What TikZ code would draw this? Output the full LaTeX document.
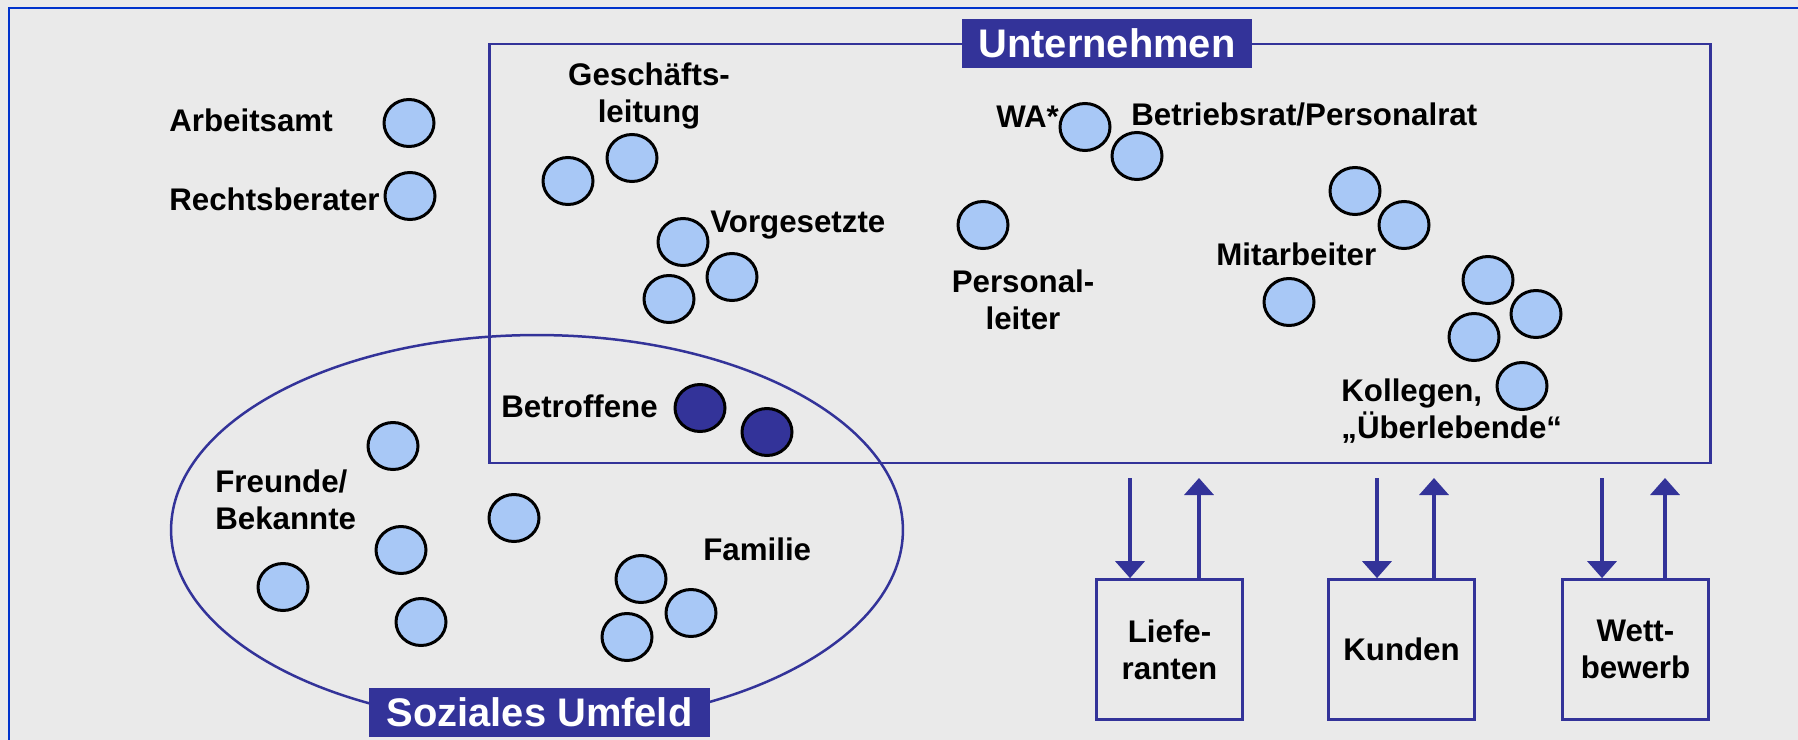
\documentclass[tikz,border=0pt]{standalone}
\usepackage{fontspec}
\setmainfont{Liberation Sans}
\usetikzlibrary{arrows.meta,shapes.geometric}
\definecolor{navy}{HTML}{333399}
\definecolor{lightblue}{HTML}{A8C8F6}
\definecolor{frameblue}{HTML}{0033CC}
\definecolor{bggray}{HTML}{EAEAEA}

\begin{document}
\begin{tikzpicture}[x=0.02cm,y=-0.02cm,
  person/.style={ellipse,draw=black,line width=0.06cm,fill=lightblue,minimum width=1cm,minimum height=0.94cm,inner sep=0pt},
  affected/.style={person,fill=navy},
  lbl/.style={inner sep=0pt,font=\fontsize{17.8}{21}\selectfont\bfseries},
  tag/.style={fill=navy,text=white,inner sep=0pt,minimum height=0.98cm,font=\fontsize{22.7}{26}\selectfont\bfseries},
  partner/.style={draw=navy,line width=0.055cm,minimum width=2.92cm,minimum height=2.8cm,inner sep=0pt,align=center,font=\fontsize{17.8}{21}\selectfont\bfseries},
  flow/.style={draw=navy,line width=0.075cm,-{Triangle[width=0.58cm,length=0.34cm]}}]

\useasboundingbox[fill=bggray] (0,0) rectangle (1798,740);
\draw[frameblue,line width=0.05cm] (9,740) -- (9,8) -- (1798,8);

\node[draw=navy,line width=0.05cm,ellipse,minimum width=14.64cm,minimum height=7.8cm,inner sep=0pt] (umfeld) at (537,530) {};
\node[draw=navy,line width=0.055cm,minimum width=24.43cm,minimum height=8.38cm,inner sep=0pt] (unt) at (1100,253.5) {};

\node[tag,minimum width=5.8cm] (untlbl) at (1107,43.5) {Unternehmen};
\node[tag,minimum width=6.82cm] (umflbl) at (539.5,712.5) {Soziales Umfeld};

% outside
\node[lbl,anchor=base west] (amt) at (169,132) {Arbeitsamt};
\node[lbl,anchor=base west] (recht) at (169,210) {Rechtsberater};
\node[person] (p-amt) at (409,123) {};
\node[person] (p-recht) at (410,196) {};

% Unternehmen
\node[lbl,align=center] (gl) at (649,96) {Geschäfts-\\leitung};
\node[person] (gl1) at (568,181) {};
\node[person] (gl2) at (632,158) {};

\node[lbl,anchor=base west] (vg) at (710,232) {Vorgesetzte};
\node[person] (vg1) at (683,242) {};
\node[person] (vg2) at (732,277) {};
\node[person] (vg3) at (669,299) {};

\node[lbl,align=center] (pl) at (1023,300) {Personal-\\leiter};
\node[person] (pl1) at (983,225) {};

\node[lbl,anchor=base west] (wa) at (996,128) {WA*};
\node[person] (wa1) at (1085,127) {};
\node[lbl,anchor=base west] (br) at (1131,126) {Betriebsrat/Personalrat};
\node[person] (br1) at (1137,156) {};

\node[lbl,anchor=base west] (ma) at (1216,265) {Mitarbeiter};
\node[person] (ma1) at (1355,191) {};
\node[person] (ma2) at (1404,225) {};
\node[person] (ma3) at (1289,302) {};

\node[lbl,align=left,anchor=west] (kol) at (1341,411) {Kollegen,\\„Überlebende“};
\node[person] (kol1) at (1488,280) {};
\node[person] (kol2) at (1536,314) {};
\node[person] (kol3) at (1474,337) {};
\node[person] (kol4) at (1522,386) {};

\node[lbl,anchor=base west] (bt) at (501,417) {Betroffene};
\node[affected] (bt1) at (700,408) {};
\node[affected] (bt2) at (767,432) {};

% Soziales Umfeld
\node[lbl,align=left,anchor=west] (fr) at (215,500) {Freunde/\\Bekannte};
\node[person] (fr1) at (393,446) {};
\node[person] (fr2) at (514,518) {};
\node[person] (fr3) at (401,550) {};
\node[person] (fr4) at (283,587) {};
\node[person] (fr5) at (421,622) {};

\node[lbl,anchor=base west] (fam) at (703,560) {Familie};
\node[person] (fam1) at (641,579) {};
\node[person] (fam2) at (691,613) {};
\node[person] (fam3) at (627,637) {};

% Markt
\node[partner] (lief) at (1169.5,649.5) {Liefe-\\ranten};
\node[partner] (kund) at (1401.5,649.5) {Kunden};
\node[partner] (wett) at (1635.5,649.5) {Wett-\\bewerb};

\coordinate (lief-in) at (1130,478);
\coordinate (lief-out) at (1199,478);
\coordinate (kund-in) at (1377,478);
\coordinate (kund-out) at (1434,478);
\coordinate (wett-in) at (1602,478);
\coordinate (wett-out) at (1665,478);

\draw[flow] (lief-in) -- (lief-in |- lief.north);
\draw[flow] (lief-out |- lief.north) -- (lief-out);
\draw[flow] (kund-in) -- (kund-in |- kund.north);
\draw[flow] (kund-out |- kund.north) -- (kund-out);
\draw[flow] (wett-in) -- (wett-in |- wett.north);
\draw[flow] (wett-out |- wett.north) -- (wett-out);

\end{tikzpicture}
\end{document}
